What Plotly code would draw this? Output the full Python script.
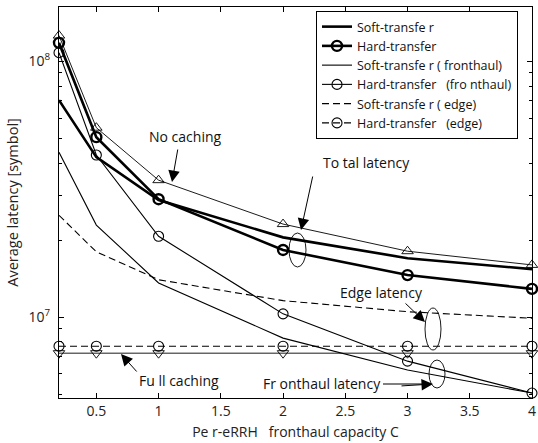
import plotly.graph_objects as go

# ---- data ----
capacity = [0.2, 0.5, 1, 2, 3, 4]
no_caching = [1.26e8, 5.5e7, 3.43e7, 2.31e7, 1.81e7, 1.60e7]
soft_total = [7.05e7, 4.22e7, 2.87e7, 2.05e7, 1.70e7, 1.54e7]
hard_total = [1.18e8, 5.05e7, 2.89e7, 1.83e7, 1.46e7, 1.29e7]
soft_front = [4.41e7, 2.29e7, 1.36e7, 8.28e6, 6.21e6, 5.05e6]
hard_front = [1.08e8, 4.30e7, 2.07e7, 1.03e7, 6.73e6, 5.05e6]
soft_edge = [2.50e7, 1.80e7, 1.40e7, 1.16e7, 1.05e7, 9.9e6]
hard_edge = [7.7e6, 7.7e6, 7.7e6, 7.7e6, 7.7e6, 7.7e6]
full_caching = [7.23e6, 7.23e6, 7.23e6, 7.23e6, 7.23e6, 7.23e6]

x_ticks = [0.5, 1, 1.5, 2, 2.5, 3, 3.5, 4]
x_ticklabels = ["0.5", "1", "1.5", "2", "2.5", "3", "3.5", "4"]
y_ticks = [1e7, 1e8]
y_ticklabels = ["10<sup>7</sup>", "10<sup>8</sup>"]

names = ["Soft-transfe r", "Hard-transfer", "Soft-transfe r ( fronthaul)",
         "Hard-transfer   (fro nthaul)", "Soft-transfe r ( edge)", "Hard-transfer   (edge)"]

W, H = 538, 443
L, R, T, B = 59, 532, 7, 398
FONT = "Open Sans"

def px(xp):
    return (xp - L) / (R - L)

def py(yp):
    return (B - yp) / (B - T)

DASH = "7px,4px"
fig = go.Figure()

fig.add_trace(go.Scatter(x=capacity, y=no_caching, mode="lines+markers", showlegend=False, cliponaxis=False,
                         line=dict(color="black", width=0.9),
                         marker=dict(symbol="triangle-up-open", size=10, color="black", line=dict(width=0.9))))
fig.add_trace(go.Scatter(x=capacity, y=full_caching, mode="lines+markers", showlegend=False, cliponaxis=False,
                         line=dict(color="black", width=0.9),
                         marker=dict(symbol="triangle-down-open", size=10, color="black", line=dict(width=0.9))))

fig.add_trace(go.Scatter(x=capacity, y=soft_total, mode="lines", name=names[0],
                         line=dict(color="black", width=2.6)))
fig.add_trace(go.Scatter(x=capacity, y=hard_total, mode="lines+markers", name=names[1], cliponaxis=False,
                         line=dict(color="black", width=2.6),
                         marker=dict(symbol="circle-open", size=10, color="black", line=dict(width=2.4))))
fig.add_trace(go.Scatter(x=capacity, y=soft_front, mode="lines", name=names[2],
                         line=dict(color="black", width=1.1)))
fig.add_trace(go.Scatter(x=capacity, y=hard_front, mode="lines+markers", name=names[3], cliponaxis=False,
                         line=dict(color="black", width=1.1),
                         marker=dict(symbol="circle-open", size=10, color="black", line=dict(width=1.1))))
fig.add_trace(go.Scatter(x=capacity, y=soft_edge, mode="lines", name=names[4],
                         line=dict(color="black", width=1.1, dash=DASH)))
fig.add_trace(go.Scatter(x=capacity, y=hard_edge, mode="lines+markers", name=names[5], cliponaxis=False,
                         line=dict(color="black", width=1.1, dash=DASH),
                         marker=dict(symbol="circle-open", size=10, color="black", line=dict(width=1.1))))

axis_common = dict(showline=True, linecolor="black", linewidth=1, mirror="allticks",
                   ticks="inside", tickcolor="black", ticklen=5, showgrid=False, zeroline=False,
                   automargin=False,
                   tickfont=dict(family=FONT, size=14, color="#222"))

fig.update_xaxes(range=[0.2, 4], tickvals=x_ticks, ticktext=x_ticklabels,
                 title=dict(text="Pe r-eRRH   fronthaul capacity C", font=dict(family=FONT, size=14, color="#222"), standoff=8),
                 **axis_common)
fig.update_yaxes(type="log", range=[6.684, 8.212], tickvals=y_ticks, ticktext=y_ticklabels,
                 ticklabelstandoff=5,
                 minor=dict(ticks="inside", ticklen=3, tickcolor="black", dtick="D1", showgrid=False),
                 title=dict(text="Average latency [symbol]", font=dict(family=FONT, size=14.5, color="#222"), standoff=6),
                 **axis_common)

# ellipses marking groups of curves (pixel positions converted to plot-domain fractions)
ellipses = [(289, 233, 306, 267), (425, 308, 441, 350), (429, 360, 445, 388)]
for (x0, y0, x1, y1) in ellipses:
    fig.add_shape(type="circle", xref="x domain", yref="y domain",
                  x0=px(x0), x1=px(x1), y0=py(y1), y1=py(y0),
                  line=dict(color="black", width=0.9))

# shaft of the horizontal fronthaul arrow
fig.add_shape(type="line", xref="x domain", yref="y domain", layer="above",
              x0=px(383), x1=px(426), y0=py(384), y1=py(384),
              line=dict(color="black", width=1.2))

ann_font = dict(family=FONT, size=14, color="#111")
# text labels
texts = [("No caching", 185, 137), ("To tal latency", 366, 162), ("Edge latency", 381, 292),
         ("Fr onthaul latency", 322, 383), ("Fu ll caching", 179, 380)]
for (t, xp, yp) in texts:
    fig.add_annotation(text=t, xref="x domain", yref="y domain", x=px(xp), y=py(yp),
                       xanchor="center", yanchor="middle",
                       showarrow=False, font=ann_font)

# arrows: (head_x, head_y, tail_x, tail_y)
arrows = [(172, 182, 178, 148), (301, 230, 313, 175), (425, 322, 404, 302),
          (121, 354, 138, 373), (433, 384, 400, 386)]
for (hx, hy, tx, ty) in arrows:
    fig.add_annotation(text="", xref="x domain", yref="y domain", x=px(hx), y=py(hy),
                       axref="x domain", ayref="y domain", ax=px(tx), ay=py(ty),
                       showarrow=True, arrowhead=2,
                       arrowsize=2.3, arrowwidth=1, arrowcolor="black")

fig.update_layout(
    width=W, height=H,
    margin=dict(l=L, r=W - R, t=T, b=H - B, autoexpand=False),
    plot_bgcolor="white", paper_bgcolor="white",
    font=dict(family=FONT, color="#222"),
    legend=dict(x=px(316), y=py(11), xanchor="left", yanchor="top",
                bordercolor="black", borderwidth=1, bgcolor="white",
                font=dict(family=FONT, size=12.5, color="#111"), tracegroupgap=0),
)

fig.write_html("out.html", config={"displayModeBar": False},
               post_script="document.body.style.margin='0';document.body.style.padding='0';")
